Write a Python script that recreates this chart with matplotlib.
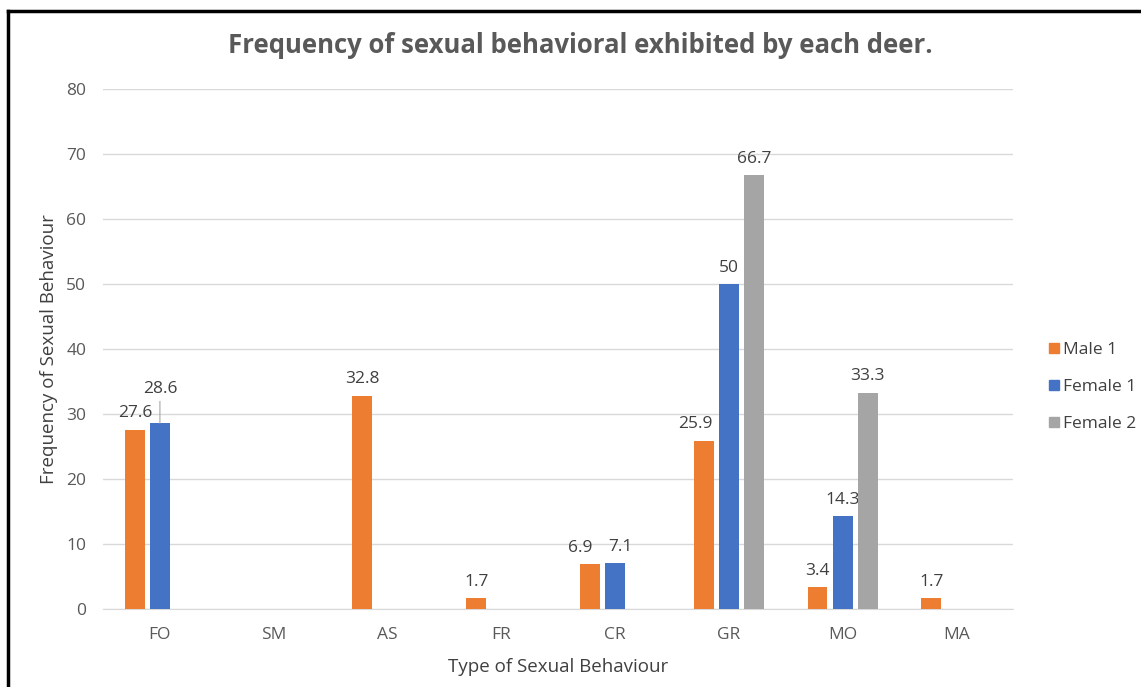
import numpy as np
import matplotlib
matplotlib.use("Agg")
import matplotlib.pyplot as plt
from matplotlib.lines import Line2D

categories = ["FO", "SM", "AS", "FR", "CR", "GR", "MO", "MA"]
male1 = [27.6, 0, 32.8, 1.7, 6.9, 25.9, 3.4, 1.7]
female1 = [28.6, 0, 0, 0, 7.1, 50, 14.3, 0]
female2 = [0, 0, 0, 0, 0, 66.7, 33.3, 0]
series_names = ["Male 1", "Female 1", "Female 2"]
colors = ["#ED7D31", "#4472C4", "#A5A5A5"]

plt.rcParams["font.family"] = ["Open Sans", "DejaVu Sans"]
text_gray = "#595959"
label_gray = "#404040"

# small sideways nudges (points) where the labels would touch
label_nudge = {("CR", "Male 1"): -7, ("CR", "Female 1"): 4, ("GR", "Male 1"): -6}

fig = plt.figure(figsize=(11.41, 6.87), dpi=100)
ax = fig.add_axes([0.0903, 0.1135, 0.7977, 0.7569])

x = np.arange(len(categories))
width = 0.175
step = 0.22
all_series = [male1, female1, female2]

for i, (vals, name, c) in enumerate(zip(all_series, series_names, colors)):
    pos = x + (i - 1) * step
    ax.bar(pos, vals, width=width, color=c, label=name, zorder=3)
    for k, (p, v) in enumerate(zip(pos, vals)):
        if v == 0:
            continue
        txt = f"{v:g}"
        if name == "Female 1" and categories[k] == "FO":
            # label pushed up with a leader line, like the original
            ax.annotate(txt, xy=(p, v), xytext=(p, v + 4.0),
                        ha="center", va="bottom", fontsize=12.5, color=label_gray,
                        arrowprops=dict(arrowstyle="-", color="#a6a6a6", lw=0.8,
                                        shrinkA=1, shrinkB=0))
        else:
            dx = label_nudge.get((categories[k], name), 0)
            ax.annotate(txt, xy=(p, v), xytext=(dx, 6), textcoords="offset points",
                        ha="center", va="bottom", fontsize=12.5, color=label_gray)

ax.set_xlim(-0.5, len(categories) - 0.5)
ax.set_ylim(0, 80)
ax.set_yticks(range(0, 81, 10))
ax.set_xticks(x)
ax.set_xticklabels(categories)
ax.tick_params(axis="both", length=0, labelsize=12.5, colors=text_gray)
ax.tick_params(axis="x", pad=13)
ax.tick_params(axis="y", pad=12)
ax.grid(axis="y", color="#d9d9d9", lw=1, zorder=0)
for s in ["top", "right", "left"]:
    ax.spines[s].set_visible(False)
ax.spines["bottom"].set_color("#d9d9d9")

ax.set_xlabel("Type of Sexual Behaviour", fontsize=13.5, color=label_gray, labelpad=11)
ax.set_ylabel("Frequency of Sexual Behaviour", fontsize=13.5, color=label_gray, labelpad=6)

fig.text(0.509, 0.934, "Frequency of sexual behavioral exhibited by each deer.",
         ha="center", va="center", fontsize=18.5, fontweight="bold", color=text_gray)

handles = [Line2D([], [], marker="s", linestyle="", markersize=7.5,
                  markerfacecolor=c, markeredgecolor=c) for c in colors]
fig.legend(handles, series_names, loc="center left", bbox_to_anchor=(0.905, 0.437),
           frameon=False, fontsize=12.5, labelcolor=label_gray, handletextpad=0.15,
           handlelength=0.7, labelspacing=1.2)

# black frame lines on top and left
fig.add_artist(Line2D([0.007, 1.0], [0.984, 0.984], color="black", lw=2.5,
                      transform=fig.transFigure))
fig.add_artist(Line2D([0.007, 0.007], [0.0, 0.984], color="black", lw=2.5,
                      transform=fig.transFigure))

fig.savefig("out.png", dpi=100)
